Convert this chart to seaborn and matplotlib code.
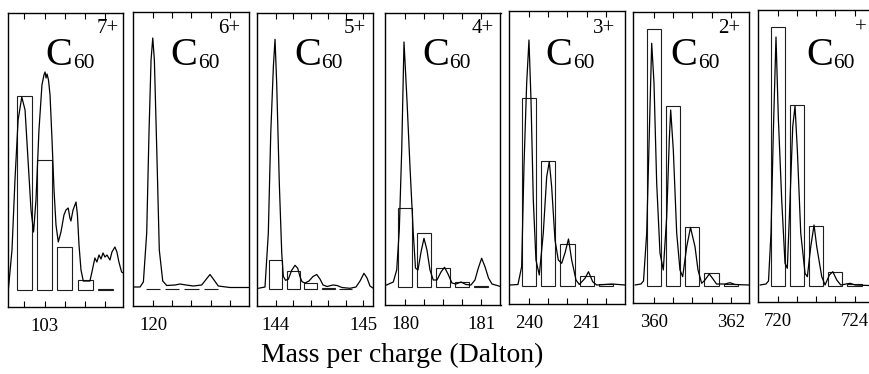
import matplotlib
matplotlib.use("Agg")
import matplotlib.pyplot as plt
import seaborn as sns

# ---------------- data (m/z in Dalton, intensity in arb. units) ----------------
charges = ["7+", "6+", "5+", "4+", "3+", "2+", "+"]

# C60 7+
p1_mz = [102.745, 102.771, 102.792, 102.814, 102.840, 102.863, 102.884, 102.905, 102.923, 102.940,
         102.961, 102.982, 102.996, 103.004, 103.011, 103.018, 103.028, 103.039, 103.053, 103.067,
         103.081, 103.097, 103.116, 103.137, 103.151, 103.167, 103.179, 103.186, 103.201, 103.222,
         103.232, 103.243, 103.257, 103.273, 103.320, 103.334, 103.355, 103.369, 103.384, 103.398,
         103.412, 103.426, 103.440, 103.461, 103.475, 103.496, 103.510, 103.524, 103.543, 103.555]
p1_int = [0, 40, 110, 170, 193, 180, 130, 80, 58, 90,
          160, 205, 215, 218, 212, 216, 210, 195, 150, 100,
          65, 48, 58, 75, 80, 82, 72, 69, 80, 88,
          75, 45, 20, 9, 9, 18, 32, 28, 35, 31,
          37, 33, 35, 30, 38, 43, 38, 28, 18, 17]
p1_bar_mz = [102.857, 103.000, 103.143, 103.286, 103.429]
p1_bar_h = [194, 130, 43, 10, 1]
p1_ticks = [102.857, 103.000, 103.143, 103.286, 103.429]
p1_ticklabels = ["", "103", "", "", ""]

# C60 6+
p2_mz = [119.827, 119.884, 119.913, 119.942, 119.962, 119.980, 119.995, 120.009, 120.030, 120.052,
         120.082, 120.117, 120.189, 120.233, 120.285, 120.349, 120.422, 120.460, 120.495, 120.530,
         120.567, 120.669, 120.831]
p2_int = [2, 2, 7, 56, 156, 229, 251, 229, 139, 39,
          8, 3.5, 4, 5, 4, 3, 4, 9.5, 14.5, 9,
          3, 1.5, 1.5]
p2_bar_mz = [120.000, 120.167, 120.333, 120.500]
p2_bar_h = [0, 0, 0, 0]
p2_ticks = [120.000, 120.167, 120.333, 120.500, 120.667]
p2_ticklabels = ["120", "", "", "", ""]

# C60 5+
p3_mz = [143.801, 143.877, 143.915, 143.943, 143.973, 143.992, 144.011, 144.041, 144.069, 144.087,
         144.112, 144.144, 144.183, 144.221, 144.252, 144.278, 144.301, 144.336, 144.381, 144.427,
         144.470, 144.507, 144.542, 144.588, 144.656, 144.702, 144.759, 144.851, 144.920, 144.966,
         145.011, 145.046, 145.080, 145.118]
p3_int = [1, 2.3, 56, 156, 222.6, 250, 206, 106, 36, 13,
          9, 10, 19, 24, 21, 12.6, 7.6, 6.3, 8.3, 12.8,
          14.8, 10.3, 4.3, 2.8, 4.3, 3.8, 1.8, 1, 2.3, 8.3,
          16, 11.3, 3.3, 1]
p3_bar_mz = [144.0, 144.2, 144.4, 144.6, 144.8]
p3_bar_h = [29.3, 18.6, 6.6, 1.4, 0.2]
p3_ticks = [144.0, 144.2, 144.4, 144.6, 144.8, 145.0]
p3_ticklabels = ["144", "", "", "", "", "145"]

# C60 4+
p4_mz = [179.743, 179.846, 179.891, 179.925, 179.957, 179.987, 180.026, 180.066, 180.109, 180.138,
         180.171, 180.211, 180.250, 180.289, 180.329, 180.372, 180.421, 180.474, 180.520, 180.566,
         180.618, 180.671, 180.737, 180.803, 180.868, 180.921, 180.964, 181.009, 181.053, 181.099,
         181.145, 181.257]
p4_int = [1.2, 4.7, 16.7, 56.7, 136.7, 244.7, 186.7, 119.7, 53.7, 18.7,
          16.7, 34.7, 48.4, 36.7, 16.7, 6.7, 6.7, 14.7, 19.4, 12.7,
          3.7, 2.7, 4.7, 2.2, 1.7, 6.7, 18.4, 28.4, 20, 8.7,
          2.7, 0.2]
p4_bar_mz = [180.00, 180.25, 180.50, 180.75, 181.00]
p4_bar_h = [78.4, 53.4, 18.4, 5, 0.5]
p4_ticks = [180.00, 180.25, 180.50, 180.75, 181.00]
p4_ticklabels = ["180", "", "", "", "181"]

# C60 3+
p5_mz = [239.671, 239.809, 239.873, 239.913, 239.960, 240.000, 240.035, 240.075, 240.121, 240.179,
         240.248, 240.307, 240.352, 240.393, 240.451, 240.508, 240.567, 240.624, 240.685, 240.740,
         240.815, 240.872, 240.971, 241.031, 241.104, 241.173, 241.317, 241.438, 241.664]
p5_int = [0.7, 1.2, 19, 119, 202.4, 245.7, 185.7, 85.7, 25.7, 10.7,
          52.7, 109, 124, 99, 45.7, 25.7, 22.4, 32.7, 46.7, 25.7,
          5.7, 1.2, 7.4, 14, 4, 0.7, 1.2, 1.7, 0.7]
p5_bar_mz = [240.000, 240.333, 240.667, 241.000, 241.333]
p5_bar_h = [187.4, 125, 41.7, 9.7, 1.5]
p5_ticks = [240.000, 240.333, 240.667, 241.000, 241.333]
p5_ticklabels = ["240", "", "", "241", ""]

# C60 2+
p6_mz = [359.505, 359.661, 359.727, 359.810, 359.878, 359.940, 360.000, 360.070, 360.156, 360.242,
         360.331, 360.398, 360.435, 360.503, 360.591, 360.677, 360.747, 360.852, 360.951, 361.068,
         361.146, 361.242, 361.328, 361.440, 361.537, 361.628, 361.849, 361.979, 362.109, 362.474]
p6_int = [0.7, 1.7, 4.7, 52.7, 152.7, 242.4, 202.7, 102.7, 32.7, 15.7,
          69, 145.7, 175.7, 135.7, 52.7, 15.7, 9, 39, 58.2, 39,
          15.7, 2.4, 5.7, 11.7, 6.7, 1.7, 1.7, 3, 1.2, 0.7]
p6_bar_mz = [360.0, 360.5, 361.0, 361.5, 362.0]
p6_bar_h = [256.4, 179.7, 59, 13, 2]
p6_ticks = [360.0, 360.5, 361.0, 361.5, 362.0]
p6_ticklabels = ["360", "", "", "", "362"]

# C60 +
p7_mz = [719.078, 719.391, 719.521, 719.651, 719.771, 719.911, 720.031, 720.208, 720.380, 720.500,
         720.641, 720.781, 720.901, 721.021, 721.198, 721.422, 721.542, 721.719, 721.891, 722.031,
         722.292, 722.464, 722.688, 722.865, 723.073, 723.281, 723.557, 723.766, 724.026, 724.755]
p7_int = [0.7, 1.7, 4.7, 52.7, 152.7, 248.7, 168.7, 85.7, 22.4, 17.4,
          85.7, 159, 179.7, 135.7, 52.7, 12.4, 9, 39, 60.7, 39,
          9, 0.7, 10.7, 14, 5.7, 0.7, 1.7, 2.4, 0.7, 0.2]
p7_bar_mz = [720, 721, 722, 723, 724]
p7_bar_h = [258.4, 180.7, 59.7, 14, 2]
p7_ticks = [720, 721, 722, 723, 724]
p7_ticklabels = ["720", "", "", "", "724"]

xlabel = "Mass per charge (Dalton)"

# ---------------- layout ----------------
W, H = 869, 374
sns.set_style("ticks")
plt.rcParams['font.family'] = ['Liberation Serif', 'DejaVu Serif']
plt.rcParams['text.color'] = 'black'

fig = plt.figure(figsize=(W / 100, H / 100), dpi=100)

series = [
    (p1_mz, p1_int, p1_bar_mz, p1_bar_h, p1_ticks, p1_ticklabels),
    (p2_mz, p2_int, p2_bar_mz, p2_bar_h, p2_ticks, p2_ticklabels),
    (p3_mz, p3_int, p3_bar_mz, p3_bar_h, p3_ticks, p3_ticklabels),
    (p4_mz, p4_int, p4_bar_mz, p4_bar_h, p4_ticks, p4_ticklabels),
    (p5_mz, p5_int, p5_bar_mz, p5_bar_h, p5_ticks, p5_ticklabels),
    (p6_mz, p6_int, p6_bar_mz, p6_bar_h, p6_ticks, p6_ticklabels),
    (p7_mz, p7_int, p7_bar_mz, p7_bar_h, p7_ticks, p7_ticklabels),
]
# axes boxes in pixels: left, right, top, bottom
boxes = [(8.3, 123.3, 12.7, 306.7), (133.3, 248.5, 11.7, 306.0), (256.7, 373.3, 12.7, 306.0),
         (385.0, 500.5, 13.0, 305.0), (509.3, 625.0, 10.7, 304.0), (633.3, 749.3, 11.7, 302.7),
         (758.3, 873.8, 10.0, 301.7)]
xlims = [(102.745, 103.555), (119.825, 120.831), (143.782, 145.118), (179.737, 181.257),
         (239.659, 241.664), (359.461, 362.482), (718.99, 725.0)]
ylims = [(-16.7, 277.3), (-17, 277.3), (-16.7, 276.6), (-18.3, 273.7),
         (-18.3, 275.0), (-17, 274.0), (-16, 275.7)]
# label x positions (px): C, superscript
label_x = [(45.5, 96.7), (170.5, 218.3), (294, 343.3), (422, 471.7),
           (545.5, 593.3), (670.5, 718.3), (806, 855)]

C_SIZE, SUB_SIZE, SUP_SIZE = 29, 15.5, 15
c_adv = 0.667 * C_SIZE * 100 / 72 + 0.5  # advance of "C" in px

for (mz, inten, bmz, bh, ticks, tlabels), (l, r, t, b), xl, yl, lx, ch in zip(
        series, boxes, xlims, ylims, label_x, charges):
    ax = fig.add_axes([l / W, (H - b) / H, (r - l) / W, (b - t) / H])
    sns.barplot(x=bmz, y=bh, native_scale=True, fill=False, color='#1e1e1e',
                width=0.74, errorbar=None, linewidth=0.8, ax=ax)
    sns.lineplot(x=mz, y=inten, color='black', linewidth=0.9, sort=False,
                 estimator=None, ax=ax)
    ax.set_xlim(*xl)
    ax.set_ylim(*yl)
    ax.set_xticks(ticks)
    ax.set_xticklabels(tlabels)
    ax.set_yticks([])
    ax.set_xlabel('')
    ax.set_ylabel('')
    ax.tick_params(axis='x', direction='in', top=True, bottom=True, length=4,
                   width=0.8, pad=8, labelsize=13.5, colors='black')
    for s in ax.spines.values():
        s.set_visible(True)
        s.set_linewidth(1.0)
        s.set_color('black')
    cx, px = lx
    fig.text(cx / W, (H - 65) / H, "C", fontsize=C_SIZE, ha='left', va='baseline', color='black')
    fig.text((cx + c_adv) / W, (H - 68.5) / H, "60", fontsize=SUB_SIZE, ha='left',
             va='baseline', color='black')
    fig.text(px / W, (H - 33) / H, ch, fontsize=SUP_SIZE, ha='left', va='baseline', color='black')

fig.text(402.5 / W, (H - 355) / H, xlabel, fontsize=20, ha='center', va='center', color='black')

fig.savefig("out.png", dpi=100)
